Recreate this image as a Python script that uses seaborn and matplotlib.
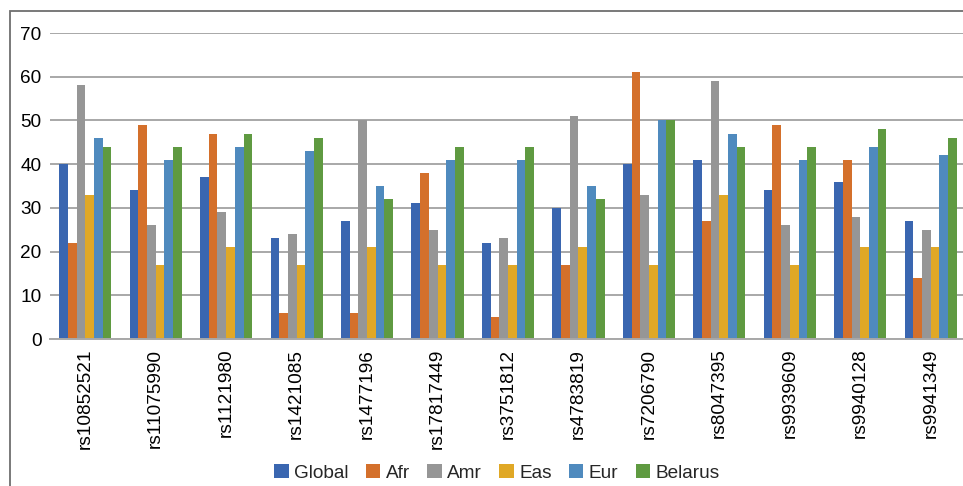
import matplotlib
matplotlib.use("Agg")
import matplotlib.pyplot as plt
from matplotlib.patches import Rectangle
import pandas as pd
import seaborn as sns

snps = ["rs10852521", "rs11075990", "rs1121980", "rs1421085", "rs1477196",
        "rs17817449", "rs3751812", "rs4783819", "rs7206790", "rs8047395",
        "rs9939609", "rs9940128", "rs9941349"]

global_vals = [40, 34, 37, 23, 27, 31, 22, 30, 40, 41, 34, 36, 27]
afr_vals = [22, 49, 47, 6, 6, 38, 5, 17, 61, 27, 49, 41, 14]
amr_vals = [58, 26, 29, 24, 50, 25, 23, 51, 33, 59, 26, 28, 25]
eas_vals = [33, 17, 21, 17, 21, 17, 17, 21, 17, 33, 17, 21, 21]
eur_vals = [46, 41, 44, 43, 35, 41, 41, 35, 50, 47, 41, 44, 42]
belarus_vals = [44, 44, 47, 46, 32, 44, 44, 32, 50, 44, 44, 48, 46]

series_names = ["Global", "Afr", "Amr", "Eas", "Eur", "Belarus"]
series_values = [global_vals, afr_vals, amr_vals, eas_vals, eur_vals, belarus_vals]
colors = ["#3A66B0", "#D4702B", "#969696", "#E0A826", "#4F8ABE", "#5F9A41"]

rows = []
for name, vals in zip(series_names, series_values):
    for snp, v in zip(snps, vals):
        rows.append({"snp": snp, "population": name, "value": v})
df = pd.DataFrame(rows)

sns.set_theme(style="white")
plt.rcParams["font.family"] = ["Liberation Sans", "DejaVu Sans"]

W, H = 963, 486
fig = plt.figure(figsize=(W / 100, H / 100), dpi=100)
ax = fig.add_axes([50 / W, (H - 339) / H, 916 / W, (339 - 33) / H])

sns.barplot(data=df, x="snp", y="value", hue="population",
            hue_order=series_names, order=snps, palette=colors,
            saturation=1, width=0.74, gap=0, ax=ax, legend=True,
            linewidth=0, errorbar=None)

ax.set_xlim(-0.5, len(snps) - 0.5)
ax.set_ylim(0, 70)
ax.set_yticks(range(0, 71, 10))
ax.yaxis.grid(True, color="#a8a8a8", linewidth=1.4)
ax.set_axisbelow(True)
for side in ["top", "right", "left"]:
    ax.spines[side].set_visible(False)
ax.spines["bottom"].set_color("#a8a8a8")
ax.spines["bottom"].set_linewidth(1.4)
ax.tick_params(axis="both", length=0, labelsize=13.7, colors="#000000")
ax.tick_params(axis="y", pad=6)
ax.tick_params(axis="x", pad=7)
plt.setp(ax.get_xticklabels(), rotation=90)
ax.set_xlabel("")
ax.set_ylabel("")

handles, labels = ax.get_legend_handles_labels()
ax.get_legend().remove()
fig.legend(handles, labels, loc="center", bbox_to_anchor=(497 / W, (H - 473) / H),
           ncol=6, frameon=False, fontsize=13.7, handlelength=0.75,
           handleheight=0.75, handletextpad=0.3, columnspacing=0.9)

fig.patches.append(Rectangle((10 / W, -0.1), 1.2, (H - 11) / H + 0.1,
                             transform=fig.transFigure, fill=False,
                             edgecolor="#6e6e6e", linewidth=1.3))

fig.savefig("out.png", dpi=100)
